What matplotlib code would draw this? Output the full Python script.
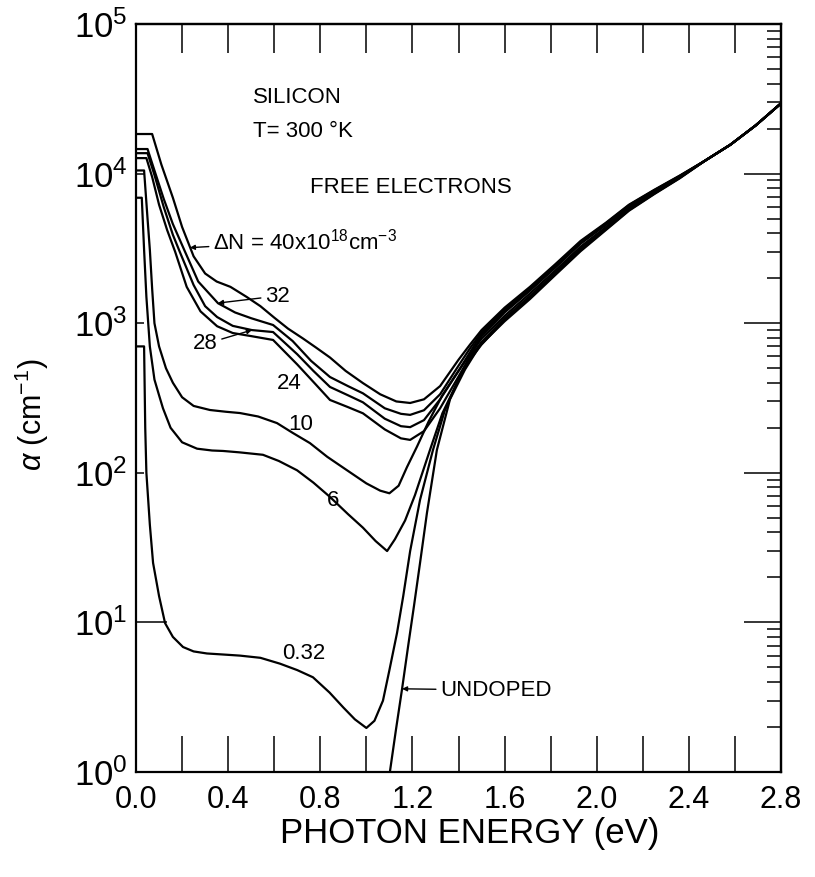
import numpy as np
import matplotlib
matplotlib.use('Agg')
import matplotlib.pyplot as plt
from matplotlib.ticker import LogLocator, NullFormatter, NullLocator

plt.rcParams['font.family'] = ['Liberation Sans', 'DejaVu Sans']
plt.rcParams['mathtext.fontset'] = 'custom'
plt.rcParams['mathtext.rm'] = 'Liberation Sans'
plt.rcParams['mathtext.it'] = 'Liberation Sans:italic'
plt.rcParams['mathtext.bf'] = 'Liberation Sans:bold'

# photon energy (eV) / absorption coefficient (cm^-1)
e40 = [0.0, 0.07, 0.11, 0.16, 0.20, 0.25, 0.30, 0.35, 0.41, 0.48, 0.54, 0.60, 0.66, 0.725, 0.78, 0.842,
       0.91, 0.985, 1.06, 1.13, 1.19, 1.25, 1.32, 1.40, 1.45, 1.50, 1.60, 1.71, 1.82, 1.93, 2.04, 2.14, 2.25, 2.36]
a40 = [18400, 18400, 11500, 6900, 4400, 2800, 2150, 1900, 1750, 1500, 1300, 1090, 920, 790, 690, 590,
       480, 398, 335, 300, 293, 310, 380, 570, 720, 900, 1270, 1750, 2480, 3550, 4700, 6200, 7800, 9700]

e32 = [0.0, 0.05, 0.08, 0.12, 0.16, 0.213, 0.27, 0.356, 0.43, 0.50, 0.595, 0.68, 0.76, 0.842, 0.92,
       0.985, 1.08, 1.15, 1.19, 1.25, 1.32, 1.40, 1.45, 1.50, 1.60, 1.71, 1.82, 1.93, 2.04, 2.14, 2.25, 2.36]
a32 = [14600, 14600, 10500, 6800, 4600, 3000, 1900, 1360, 1180, 1080, 973, 760, 560, 437, 380,
       340, 270, 248, 244, 262, 335, 520, 680, 870, 1240, 1720, 2440, 3500, 4650, 6150, 7750, 9650]

e28 = [0.0, 0.05, 0.08, 0.12, 0.16, 0.19, 0.25, 0.30, 0.352, 0.42, 0.503, 0.595, 0.70, 0.77, 0.842, 0.92,
       0.985, 1.08, 1.15, 1.19, 1.25, 1.32, 1.40, 1.45, 1.50, 1.60, 1.71, 1.82, 1.93, 2.04, 2.14, 2.25, 2.36]
a28 = [13700, 13700, 9800, 6000, 3900, 3000, 1800, 1300, 1100, 960, 900, 873, 620, 480, 375, 330,
       296, 230, 205, 202, 225, 310, 480, 640, 850, 1210, 1690, 2400, 3450, 4600, 6100, 7700, 9600]

e24 = [0.0, 0.045, 0.07, 0.10, 0.135, 0.17, 0.22, 0.28, 0.352, 0.42, 0.50, 0.595, 0.70, 0.78, 0.842, 0.92,
       0.985, 1.08, 1.15, 1.19, 1.25, 1.32, 1.40, 1.45, 1.50, 1.60, 1.71, 1.82, 1.93, 2.04, 2.14, 2.25, 2.36]
a24 = [12700, 12700, 9500, 6200, 4200, 3000, 1750, 1200, 955, 860, 820, 773, 530, 390, 307, 275,
       250, 195, 170, 166, 190, 270, 440, 600, 820, 1180, 1650, 2350, 3400, 4550, 6050, 7650, 9550]

e10 = [0.0, 0.035, 0.05, 0.06, 0.07, 0.08, 0.10, 0.13, 0.16, 0.20, 0.25, 0.321, 0.39, 0.451, 0.53, 0.612,
       0.68, 0.755, 0.83, 0.916, 1.0, 1.06, 1.10, 1.14, 1.176, 1.22, 1.27, 1.33, 1.40, 1.45, 1.50, 1.60,
       1.71, 1.82, 1.93, 2.04, 2.14, 2.25, 2.36]
a10 = [10500, 10500, 5000, 3100, 1700, 1000, 700, 500, 400, 320, 280, 263, 256, 251, 238, 215,
       185, 158, 128, 104, 85, 76, 73, 82, 109, 150, 220, 330, 480, 620, 790, 1120,
       1580, 2250, 3250, 4400, 5900, 7500, 9450]

e6 = [0.0, 0.025, 0.035, 0.045, 0.06, 0.08, 0.10, 0.117, 0.15, 0.20, 0.265, 0.33, 0.378, 0.45, 0.551,
      0.62, 0.699, 0.77, 0.842, 0.92, 0.985, 1.04, 1.09, 1.124, 1.168, 1.211, 1.276, 1.33, 1.40, 1.45, 1.50,
      1.60, 1.71, 1.82, 1.93, 2.04, 2.14, 2.25, 2.36]
a6 = [6900, 6900, 3100, 1500, 700, 420, 330, 270, 200, 160, 145, 141, 140, 137, 132,
      120, 104, 86, 69, 53, 43, 35, 30, 36, 48, 71, 142, 250, 420, 590, 750,
      1080, 1520, 2180, 3150, 4300, 5800, 7400, 9400]

e032 = [0.0, 0.035, 0.040, 0.045, 0.06, 0.074, 0.10, 0.126, 0.16, 0.204, 0.25, 0.308, 0.38, 0.451, 0.54,
        0.625, 0.70, 0.768, 0.84, 0.90, 0.95, 1.0, 1.035, 1.072, 1.10, 1.133, 1.16, 1.19, 1.233, 1.289, 1.34,
        1.40, 1.45, 1.50, 1.60, 1.71, 1.82, 1.93, 2.04, 2.14, 2.25, 2.36]
a032 = [700, 700, 200, 100, 45, 25, 15, 9.9, 8.0, 6.85, 6.4, 6.2, 6.1, 6.0, 5.8,
        5.3, 4.8, 4.3, 3.4, 2.7, 2.25, 1.97, 2.2, 3.0, 4.8, 8.5, 15, 30, 66, 142, 260,
        420, 570, 720, 1050, 1480, 2130, 3080, 4250, 5700, 7350, 9350]

e_und = [1.102, 1.128, 1.155, 1.181, 1.207, 1.233, 1.263, 1.306, 1.363, 1.428, 1.493, 1.60, 1.71, 1.82,
         1.93, 2.04, 2.14, 2.25, 2.36]
a_und = [1.0, 1.9, 3.6, 6.9, 13, 25, 54, 142, 310, 490, 710, 1030, 1450, 2100,
         3030, 4200, 5650, 7300, 9300]

# all curves merge above ~2.4 eV
tail_e = [2.47, 2.58, 2.69, 2.80]
tail_a = [12200, 15600, 21000, 29500]

xticks = [0.0, 0.2, 0.4, 0.6, 0.8, 1.0, 1.2, 1.4, 1.6, 1.8, 2.0, 2.2, 2.4, 2.6, 2.8]
xlabels = ['0.0', '', '0.4', '', '0.8', '', '1.2', '', '1.6', '', '2.0', '', '2.4', '', '2.8']
yticks = [1, 10, 100, 1e3, 1e4, 1e5]

fig = plt.figure(figsize=(8.15, 8.77), dpi=100)
ax = fig.add_axes([0.1669, 0.1197, 0.7914, 0.8529])

curves = [(e40, a40), (e32, a32), (e28, a28), (e24, a24), (e10, a10), (e6, a6), (e032, a032), (e_und, a_und)]
for e, a in curves:
    ax.plot(e + tail_e, a + tail_a, color='k', lw=1.6, solid_joinstyle='round')

ax.set_yscale('log')
ax.set_xlim(0, 2.8)
ax.set_ylim(1, 1e5)

for sp in ax.spines.values():
    sp.set_linewidth(1.6)

ax.set_xticks(xticks)
ax.set_xticklabels(xlabels)
ax.tick_params(axis='x', direction='in', length=26, width=1.1, labelsize=22, pad=9)

ax.set_yticks(yticks)
ax.yaxis.set_minor_locator(NullLocator())
ax.tick_params(axis='y', direction='in', length=6, width=1.1, labelsize=25, pad=6)
ax.yaxis.get_major_ticks()[1].tick1line.set_markersize(22)

secx = ax.secondary_xaxis('top')
secx.set_xticks(xticks)
secx.set_xticklabels([])
secx.tick_params(axis='x', direction='in', length=21, width=1.1)
secx.spines['top'].set_linewidth(1.6)

secy = ax.secondary_yaxis('right')
secy.set_yticks(yticks)
secy.yaxis.set_minor_locator(LogLocator(base=10, subs=[2, 3, 4, 5, 6, 7, 8, 9]))
secy.yaxis.set_major_formatter(NullFormatter())
secy.yaxis.set_minor_formatter(NullFormatter())
secy.tick_params(axis='y', which='major', direction='in', length=27, width=1.1)
secy.tick_params(axis='y', which='minor', direction='in', length=10, width=1.1)
secy.spines['right'].set_linewidth(1.6)

# text
fs = 16
ax.text(0.508, 32500, 'SILICON', fontsize=fs, va='center')
ax.text(0.508, 19000, 'T= 300 °K', fontsize=fs, va='center')
ax.text(0.755, 8130, 'FREE ELECTRONS', fontsize=fs, va='center')

arrow = dict(arrowstyle='-|>', color='k', lw=1.0, mutation_scale=7, shrinkA=1, shrinkB=0)
ax.annotate('ΔN = 40x10$^{18}$cm$^{-3}$', xy=(0.234, 3200), xytext=(0.334, 3540),
            fontsize=fs, va='center', arrowprops=arrow)
ax.annotate('32', xy=(0.356, 1364), xytext=(0.56, 1520), fontsize=fs, va='center', arrowprops=arrow)
ax.annotate('28', xy=(0.503, 900), xytext=(0.247, 727), fontsize=fs, va='center', arrowprops=arrow)
ax.text(0.612, 398, '24', fontsize=fs, va='center')
ax.text(0.66, 209, '10', fontsize=fs, va='center')
ax.text(0.829, 65.8, '6', fontsize=fs, va='center')
ax.text(0.634, 6.2, '0.32', fontsize=fs, va='center')
ax.annotate('UNDOPED', xy=(1.155, 3.6), xytext=(1.32, 3.53), fontsize=fs, va='center', arrowprops=arrow)

fig.text(470 / 815, 1 - 833 / 877, 'PHOTON ENERGY (eV)', fontsize=25, ha='center', va='center')
fig.text(32 / 815, 1 - 415 / 877, r'$\alpha$ (cm$^{-1}$)', fontsize=22, rotation=90,
         ha='center', va='center')

fig.savefig('out.png', dpi=100)
